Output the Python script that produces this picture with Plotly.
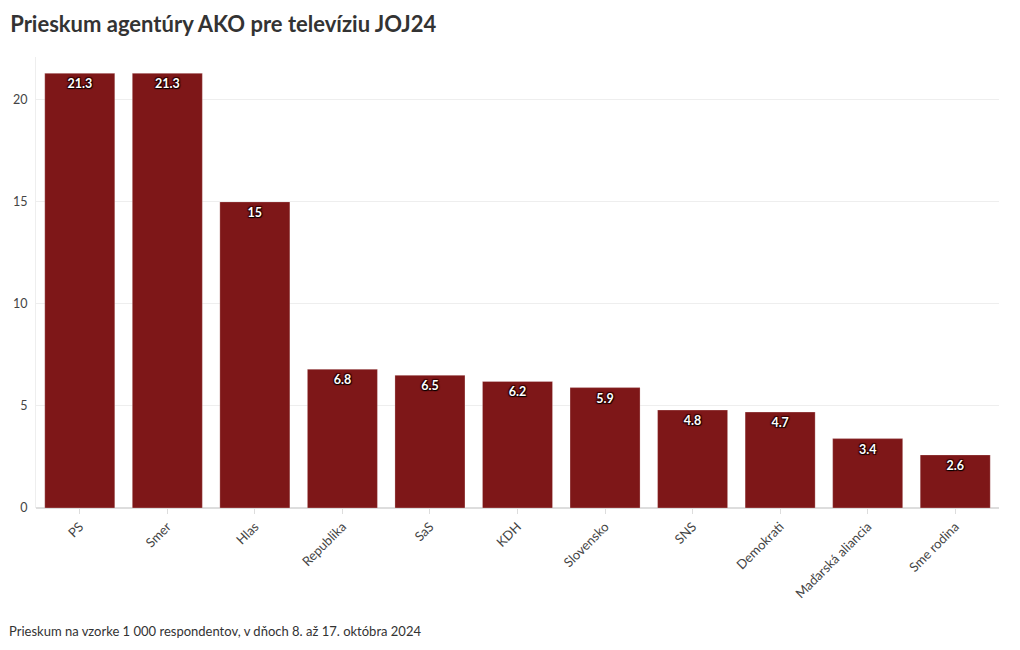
import plotly.graph_objects as go

parties = ["PS", "Smer", "Hlas", "Republika", "SaS", "KDH", "Slovensko", "SNS",
           "Demokrati", "Maďarská aliancia", "Sme rodina"]
values = [21.3, 21.3, 15, 6.8, 6.5, 6.2, 5.9, 4.8, 4.7, 3.4, 2.6]
labels = [str(v) for v in values]

FONT = "Source Sans Pro, Lato, Noto Sans, sans-serif"

fig = go.Figure(go.Bar(
    x=parties, y=values, text=labels,
    textposition="inside", insidetextanchor="end",
    textangle=0,
    textfont=dict(family=FONT, size=12.5, color="white", weight="bold",
                  shadow="1px 1px 1px #000, -1px -1px 1px #300, 1px -1px 1px #300, -1px 1px 1px #300"),
    marker=dict(color="#7e1718", line=dict(color="rgba(255,255,255,0.25)", width=1)),
    hoverinfo="x+y",
))

fig.update_layout(
    width=1020, height=650,
    margin=dict(l=36, r=21, t=57, b=142),
    paper_bgcolor="white", plot_bgcolor="white",
    bargap=0.2,
    font=dict(family=FONT, size=13, color="#444"),
    title=dict(text="<b>Prieskum agentúry AKO pre televíziu JOJ24</b>",
               x=0.01, xanchor="left", y=0.962, yanchor="middle",
               font=dict(size=22, color="#333", family=FONT)),
    showlegend=False,
    annotations=[dict(text="Prieskum na vzorke 1 000 respondentov, v dňoch 8. až 17. októbra 2024",
                      xref="paper", yref="paper", x=-0.03, y=-0.273,
                      xanchor="left", yanchor="middle", showarrow=False,
                      font=dict(size=13, color="#333"))],
)
fig.update_xaxes(tickangle=-45, ticks="outside", ticklen=5, tickcolor="#ddd",
                 showline=False, tickfont=dict(size=13, color="#444"))
fig.update_yaxes(range=[0, 22.1], dtick=5, gridcolor="#eee", zeroline=True,
                 zerolinecolor="#ddd", showline=True, linecolor="#eee",
                 ticks="outside", ticklen=5, tickcolor="#fff",
                 tickfont=dict(size=12.5, color="#444"))

fig.write_html("out.html")
